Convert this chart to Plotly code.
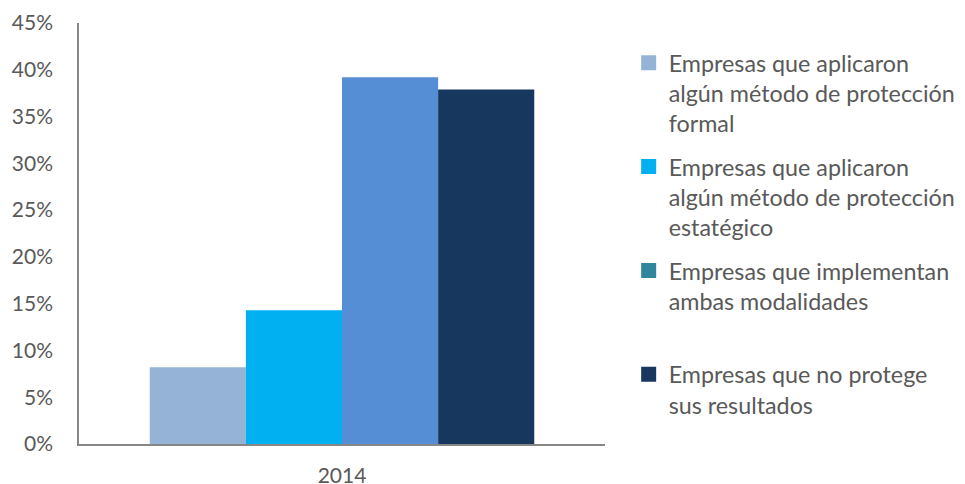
import plotly.graph_objects as go

categories = ["2014"]
series_names = [
    "Empresas que aplicaron<br>algún método de protección<br>formal",
    "Empresas que aplicaron<br>algún método de protección<br>estatégico",
    "Empresas que implementan<br>ambas modalidades<br> ",
    "Empresas que no protege<br>sus resultados",
]
series_values = [[0.082], [0.143], [0.392], [0.379]]
bar_colors = ["#95B3D7", "#00B0F0", "#558ED5", "#17375E"]
legend_colors = ["#95B3D7", "#00B0F0", "#31859C", "#17375E"]
y_ticks = [0, 0.05, 0.10, 0.15, 0.20, 0.25, 0.30, 0.35, 0.40, 0.45]

FONT = "Lato"
TXT = "#595959"
AX = "#868686"

fig = go.Figure()
for name, vals, col in zip(series_names, series_values, bar_colors):
    fig.add_trace(go.Bar(x=categories, y=vals, name=name, marker_color=col,
                         marker_line_width=0, showlegend=False))
# legend entries (Excel legend keys; the third key colour differs from its bar)
for i, (name, col) in enumerate(zip(series_names, legend_colors)):
    fig.add_trace(go.Scatter(x=categories, y=[-1], name=name, mode="markers",
                             marker=dict(symbol="square", size=15, color=col,
                                         line=dict(width=0)),
                             xaxis="x2", yaxis="y2",
                             legendgroup=f"g{i}", showlegend=True, hoverinfo="skip"))

fig.update_layout(
    width=965, height=484,
    margin=dict(l=71, r=366, t=15, b=48),
    paper_bgcolor="white", plot_bgcolor="white",
    barmode="group", bargap=0.269, bargroupgap=0,
    font=dict(family=FONT, color=TXT, size=21),
    xaxis=dict(showline=True, linecolor=AX, linewidth=1.5, showgrid=False,
               automargin=False,
               ticks="", tickfont=dict(size=21, color=TXT), ticklabelstandoff=12),
    yaxis=dict(range=[0, 0.45], tickvals=y_ticks, tickformat=".0%",
               showline=True, linecolor=AX, linewidth=1.5, showgrid=False,
               automargin=False,
               zeroline=False, ticks="", tickfont=dict(size=21, color=TXT),
               ticklabelstandoff=20),
    xaxis2=dict(visible=False, overlaying="x"),
    yaxis2=dict(visible=False, overlaying="y", range=[0, 1]),
    legend=dict(x=1.045, y=0.957, xanchor="left", yanchor="top",
                xref="paper", yref="paper", valign="top", itemsizing="trace",
                font=dict(size=23.3, color=TXT, family=FONT),
                tracegroupgap=10, traceorder="grouped", bgcolor="rgba(0,0,0,0)"),
)

fig.write_html("out.html")
